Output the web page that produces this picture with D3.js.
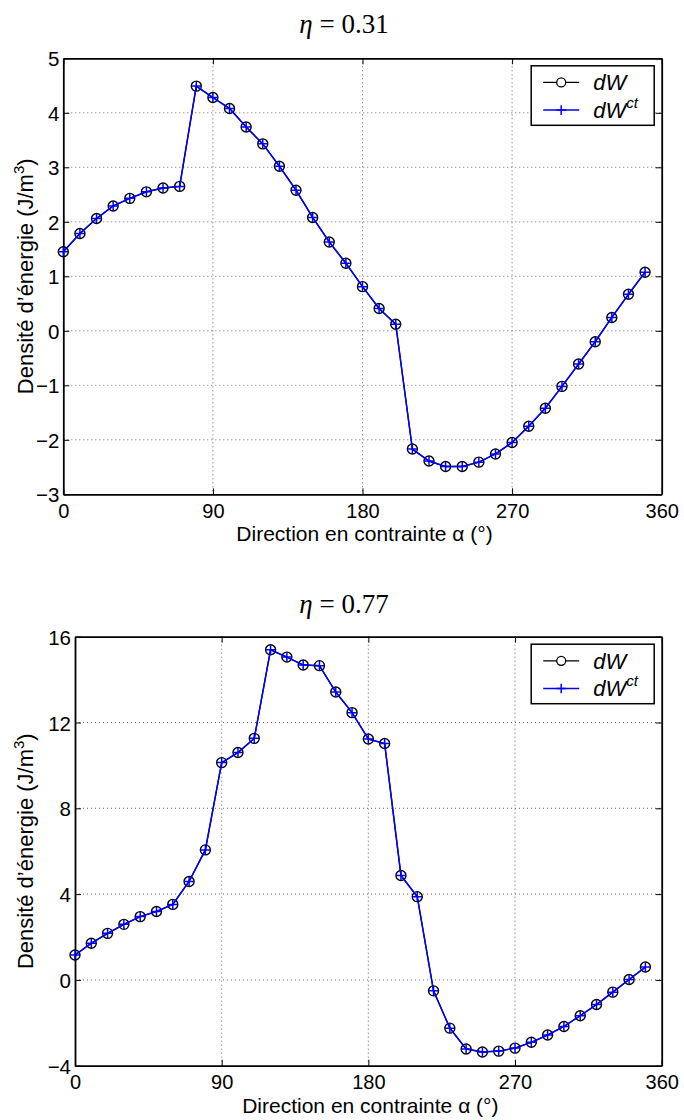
<!DOCTYPE html>
<html>
<head>
<meta charset="utf-8">
<script src="https://cdn.jsdelivr.net/npm/d3@7"></script>
<style>
  html, body { margin: 0; padding: 0; background: #fff; }
  svg { display: block; }
</style>
</head>
<body>
<svg id="fig" width="684" height="1120"></svg>
<script>
// Stress direction (degrees)
const angles = [0, 10, 20, 30, 40, 50, 60, 70, 80, 90, 100, 110, 120, 130, 140, 150, 160, 170,
                180, 190, 200, 210, 220, 230, 240, 250, 260, 270, 280, 290, 300, 310, 320, 330, 340, 350];

// Energy density, eta = 0.31
const dW_031 = [1.45, 1.785, 2.06, 2.29, 2.43, 2.55, 2.62, 2.65, 4.49, 4.28, 4.08, 3.74, 3.43, 3.02,
                2.58, 2.08, 1.63, 1.24, 0.81, 0.41, 0.12, -2.17, -2.39, -2.49, -2.49, -2.41, -2.26,
                -2.05, -1.75, -1.42, -1.02, -0.61, -0.20, 0.245, 0.67, 1.075];
const dWct_031 = [1.45, 1.785, 2.06, 2.29, 2.43, 2.55, 2.62, 2.65, 4.49, 4.28, 4.08, 3.74, 3.43, 3.02,
                  2.58, 2.08, 1.63, 1.24, 0.81, 0.41, 0.12, -2.17, -2.39, -2.49, -2.49, -2.41, -2.26,
                  -2.05, -1.75, -1.42, -1.02, -0.61, -0.20, 0.245, 0.67, 1.075];

// Energy density, eta = 0.77
const dW_077 = [1.16, 1.71, 2.17, 2.59, 2.95, 3.19, 3.52, 4.59, 6.06, 10.13, 10.60, 11.26, 15.39, 15.05,
                14.68, 14.65, 13.42, 12.46, 11.23, 11.02, 4.87, 3.88, -0.51, -2.25, -3.22, -3.36, -3.32,
                -3.18, -2.91, -2.57, -2.17, -1.67, -1.15, -0.57, 0.02, 0.60];
const dWct_077 = [1.16, 1.71, 2.17, 2.59, 2.95, 3.19, 3.52, 4.59, 6.06, 10.13, 10.60, 11.26, 15.39, 15.05,
                  14.68, 14.65, 13.42, 12.46, 11.23, 11.02, 4.87, 3.88, -0.51, -2.25, -3.22, -3.36, -3.32,
                  -3.18, -2.91, -2.57, -2.17, -1.67, -1.15, -0.57, 0.02, 0.60];

// Tick values
const xTicks = [0, 90, 180, 270, 360];
const yTicks_031 = [-3, -2, -1, 0, 1, 2, 3, 4, 5];
const yTicks_077 = [-4, 0, 4, 8, 12, 16];

const etaLabels = ["0.31", "0.77"];

const panels = [
  { eta: etaLabels[0], dW: dW_031, dWct: dWct_031, yTicks: yTicks_031,
    box: { left: 63.3, right: 661.7, top: 58.3, bottom: 494.3 }, titleY: 33, xTickDy: 24, xLabDy: 47 },
  { eta: etaLabels[1], dW: dW_077, dWct: dWct_077, yTicks: yTicks_077,
    box: { left: 75, right: 661.7, top: 636.7, bottom: 1065.7 }, titleY: 613, xTickDy: 23.5, xLabDy: 47 }
];

const SANS = "'Liberation Sans', Arial, Helvetica, sans-serif";
const SERIF = "'Liberation Serif', 'Times New Roman', serif";
const fmt = v => (v < 0 ? "\u2212" + Math.abs(v) : String(v));

const svg = d3.select("#fig");

function plusPath(s) {
  return `M${-s},0H${s}M0,${-s}V${s}`;
}

panels.forEach(p => {
  const b = p.box;
  const x = d3.scaleLinear().domain([xTicks[0], xTicks[xTicks.length - 1]]).range([b.left, b.right]);
  const y = d3.scaleLinear().domain([p.yTicks[0], p.yTicks[p.yTicks.length - 1]]).range([b.bottom, b.top]);
  const g = svg.append("g");

  // Title
  const t = g.append("text")
    .attr("x", 344).attr("y", p.titleY)
    .attr("text-anchor", "middle")
    .attr("font-family", SERIF).attr("font-size", 27).attr("fill", "#000");
  t.append("tspan").attr("font-style", "italic").text("\u03B7");
  t.append("tspan").text(" = " + p.eta);

  // Dotted grid
  const grid = g.append("g").attr("stroke", "#666").attr("stroke-width", 1)
    .attr("stroke-dasharray", "1,3").attr("fill", "none");
  grid.selectAll("line.gx").data(xTicks.slice(1, -1)).join("line")
    .attr("x1", d => x(d)).attr("x2", d => x(d)).attr("y1", b.top).attr("y2", b.bottom);
  grid.selectAll("line.gy").data(p.yTicks.slice(1, -1)).join("line")
    .attr("y1", d => y(d)).attr("y2", d => y(d)).attr("x1", b.left).attr("x2", b.right);

  // Axes (ticks on all four sides, pointing inwards)
  const tickLen = 6;
  const axB = g.append("g").attr("transform", `translate(0,${b.bottom})`)
    .call(d3.axisBottom(x).tickValues(xTicks).tickSizeInner(-tickLen).tickSizeOuter(0).tickFormat(fmt));
  const axT = g.append("g").attr("transform", `translate(0,${b.top})`)
    .call(d3.axisTop(x).tickValues(xTicks).tickSizeInner(-tickLen).tickSizeOuter(0).tickFormat(""));
  const axL = g.append("g").attr("transform", `translate(${b.left},0)`)
    .call(d3.axisLeft(y).tickValues(p.yTicks).tickSizeInner(-tickLen).tickSizeOuter(0).tickFormat(fmt));
  const axR = g.append("g").attr("transform", `translate(${b.right},0)`)
    .call(d3.axisRight(y).tickValues(p.yTicks).tickSizeInner(-tickLen).tickSizeOuter(0).tickFormat(""));

  [axB, axT, axL, axR].forEach(a => {
    a.select(".domain").attr("stroke", "#000").attr("stroke-width", 1.8);
    a.selectAll(".tick line").attr("stroke", "#000").attr("stroke-width", 1);
    a.selectAll("text").attr("font-family", SANS).attr("font-size", 20.5).attr("fill", "#000");
  });
  axB.selectAll(".tick text").attr("dy", null).attr("y", p.xTickDy).attr("font-size", 20);
  axL.selectAll(".tick text").attr("dy", null).attr("x", -4).attr("y", 7.5);

  // Axis labels
  g.append("text")
    .attr("x", (b.left + b.right) / 2 + 2).attr("y", b.bottom + p.xLabDy)
    .attr("text-anchor", "middle")
    .attr("font-family", SANS).attr("font-size", 21).attr("fill", "#000")
    .text("Direction en contrainte \u03B1 (\u00B0)");

  const yl = g.append("text")
    .attr("transform", `translate(33,${(b.top + b.bottom) / 2}) rotate(-90)`)
    .attr("text-anchor", "middle")
    .attr("font-family", SANS).attr("font-size", 22).attr("fill", "#000");
  yl.append("tspan").text("Densit\u00E9 d\u2019\u00E9nergie (J/m");
  yl.append("tspan").attr("font-size", 15).attr("dy", -9).text("3");
  yl.append("tspan").attr("dy", 9).text(")");

  // Series
  const line = (vals) => d3.line().x((d, i) => x(angles[i])).y(d => y(d))(vals);

  g.append("path").attr("d", line(p.dW))
    .attr("fill", "none").attr("stroke", "#000").attr("stroke-width", 1.3);
  g.append("g").selectAll("circle").data(p.dW).join("circle")
    .attr("cx", (d, i) => x(angles[i])).attr("cy", d => y(d)).attr("r", 5)
    .attr("fill", "none").attr("stroke", "#000").attr("stroke-width", 1.4);

  g.append("path").attr("d", line(p.dWct))
    .attr("fill", "none").attr("stroke", "#0000ff").attr("stroke-width", 1.5);
  g.append("g").selectAll("path").data(p.dWct).join("path")
    .attr("transform", (d, i) => `translate(${x(angles[i])},${y(d)})`)
    .attr("d", plusPath(4.8))
    .attr("fill", "none").attr("stroke", "#0000ff").attr("stroke-width", 1.5);

  // Legend
  const lw = 123, lh = 59.5;
  const lx = b.right - 7.5 - lw, ly = b.top + 7.5;
  const lg = g.append("g").attr("transform", `translate(${lx},${ly})`);
  lg.append("rect").attr("width", lw).attr("height", lh)
    .attr("fill", "#fff").attr("stroke", "#000").attr("stroke-width", 1.5);
  const rows = [16.6, 44.3];
  lg.append("line").attr("x1", 12).attr("x2", 48).attr("y1", rows[0]).attr("y2", rows[0])
    .attr("stroke", "#000").attr("stroke-width", 1.3);
  lg.append("circle").attr("cx", 30).attr("cy", rows[0]).attr("r", 4.5)
    .attr("fill", "#fff").attr("stroke", "#000").attr("stroke-width", 1.3);
  lg.append("line").attr("x1", 12).attr("x2", 48).attr("y1", rows[1]).attr("y2", rows[1])
    .attr("stroke", "#0000ff").attr("stroke-width", 1.5);
  lg.append("path").attr("transform", `translate(30,${rows[1]})`).attr("d", plusPath(4.8))
    .attr("fill", "none").attr("stroke", "#0000ff").attr("stroke-width", 1.5);

  lg.append("text").attr("x", 62).attr("y", rows[0] + 8)
    .attr("font-family", SANS).attr("font-size", 22).attr("font-style", "italic").attr("fill", "#000")
    .text("dW");
  const l2 = lg.append("text").attr("x", 62).attr("y", rows[1] + 8)
    .attr("font-family", SANS).attr("font-size", 22).attr("font-style", "italic").attr("fill", "#000");
  l2.append("tspan").text("dW");
  l2.append("tspan").attr("font-size", 15).attr("dy", -10).text("ct");
});
</script>
</body>
</html>
